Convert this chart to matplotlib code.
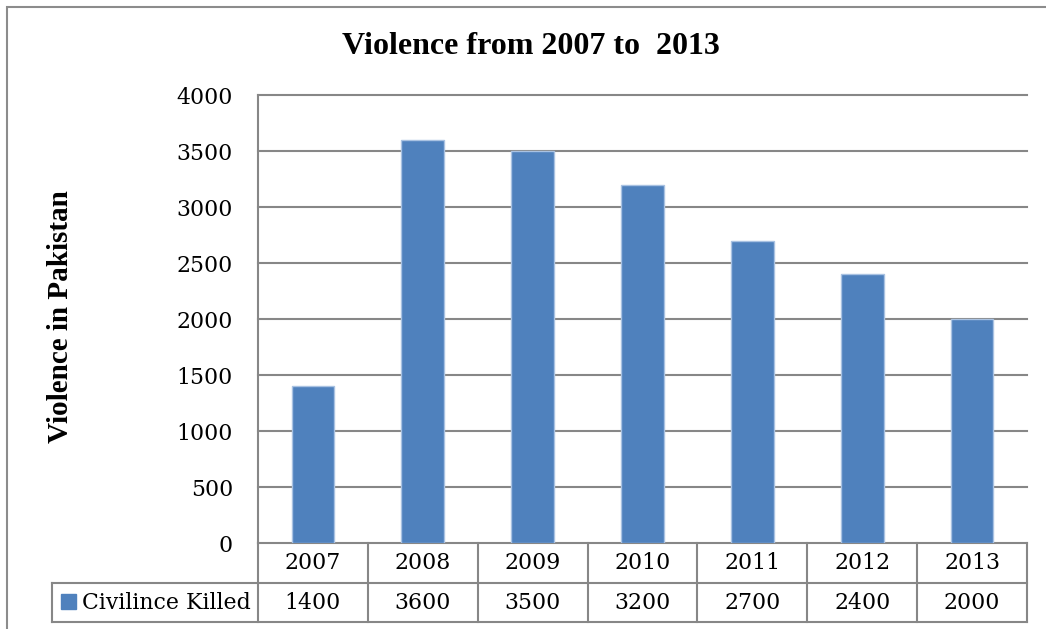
import matplotlib
matplotlib.use('Agg')
import matplotlib.pyplot as plt
import matplotlib.transforms as mtrans
from matplotlib.lines import Line2D
from matplotlib.patches import Rectangle
import numpy as np


#%% Data
years = ['2007', '2008', '2009', '2010', '2011', '2012', '2013']
civilians_killed = [1400, 3600, 3500, 3200, 2700, 2400, 2000]
series_name = 'Civilince Killed'
y_ticks = [0, 500, 1000, 1500, 2000, 2500, 3000, 3500, 4000]

title = 'Violence from 2007 to  2013'
y_label = 'Violence in Pakistan'

bar_color = '#4F81BD'
line_color = '#878787'
num_font = 'DejaVu Serif'
head_font = 'Liberation Serif'


#%% Layout helpers (pixel -> figure fraction)
W, H = 1046, 629
fig = plt.figure(figsize=(W / 100, H / 100), dpi=100)


def fx(x):
    return x / W


def fy(y):
    return 1 - y / H


#%% Plot data
ax = fig.add_axes([fx(258), fy(543), fx(1027) - fx(258), fy(95) - fy(543)])
xpos = np.arange(len(years))
ax.bar(xpos, civilians_killed, width=0.39, color=bar_color,
       edgecolor='#A9C2E2', linewidth=1, zorder=3)
ax.set_xlim(-0.5, len(years) - 0.5)
ax.set_ylim(0, 4000)
ax.set_yticks(y_ticks)
ax.set_yticklabels([str(t) for t in y_ticks], fontfamily=num_font)
ax.set_xticks([])
ax.yaxis.grid(True, color=line_color, linewidth=1.5)
for gl in ax.get_ygridlines():
    gl.set_clip_on(False)
ax.set_axisbelow(True)
ax.tick_params(axis='y', length=0, pad=18, labelsize=15.8)
for s in ['top', 'right', 'bottom']:
    ax.spines[s].set_visible(False)
ax.spines['left'].set_color(line_color)
ax.spines['left'].set_linewidth(1.5)

# Data table under the axis
trans = mtrans.blended_transform_factory(ax.transData, fig.transFigure)
edges = np.arange(len(years) + 1) - 0.5
for e in edges:
    fig.add_artist(Line2D([e, e], [fy(543), fy(622)], transform=trans,
                          color=line_color, linewidth=1.5))
for yy in [583, 622]:
    fig.add_artist(Line2D([fx(52), fx(1027)], [fy(yy), fy(yy)],
                          transform=fig.transFigure,
                          color=line_color, linewidth=1.5))
fig.add_artist(Line2D([fx(52), fx(52)], [fy(583), fy(622)],
                      transform=fig.transFigure,
                      color=line_color, linewidth=1.5))

for i, (yr, val) in enumerate(zip(years, civilians_killed)):
    fig.text(i, fy(563), yr, transform=trans, ha='center', va='center',
             fontsize=15.8, fontfamily=num_font)
    fig.text(i, fy(603), str(val), transform=trans, ha='center',
             va='center', fontsize=15.8, fontfamily=num_font)

# Legend key in the table
fig.add_artist(Rectangle((fx(61), fy(609)), fx(15), 15 / H,
                         transform=fig.transFigure, color=bar_color))
fig.text(fx(82), fy(603), series_name, ha='left', va='center',
         fontsize=15.8, fontfamily=num_font)

# Labels
fig.text(fx(531), fy(46), title, ha='center', va='center',
         fontsize=23, fontweight='bold', fontfamily=head_font)
fig.text(fx(60), fy(317), y_label, ha='center', va='center', rotation=90,
         fontsize=21, fontweight='bold', fontfamily=head_font)

# Outer chart frame
fig.add_artist(Rectangle((fx(7), fy(640)), fx(1060), 633 / H,
                         transform=fig.transFigure, fill=False,
                         edgecolor='#8C8C8C', linewidth=1.5))

fig.savefig('out.png', dpi=100)
